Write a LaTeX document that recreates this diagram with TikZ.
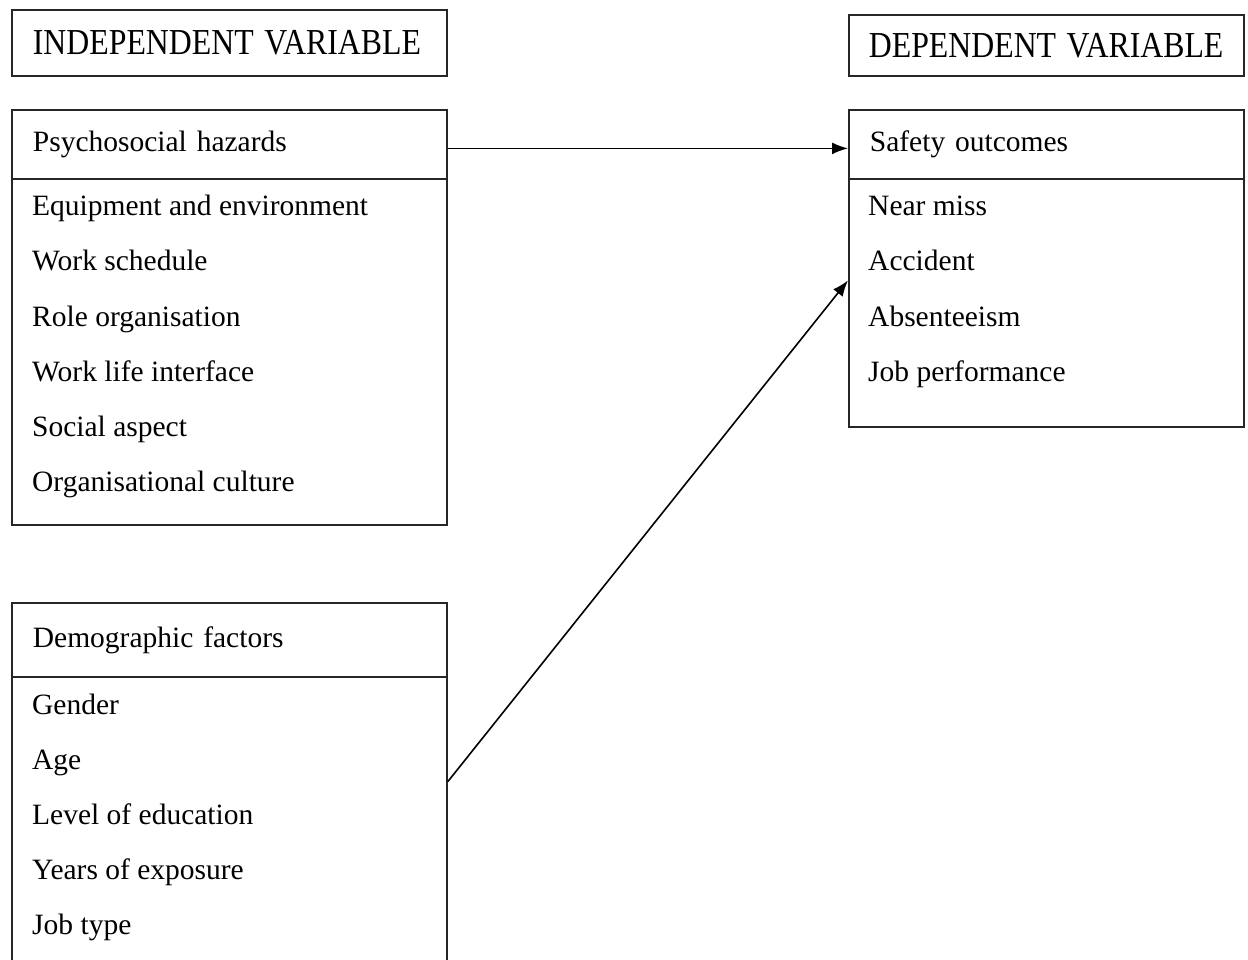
\documentclass[tikz,border=0pt]{standalone}
\usepackage{fontspec}
\usepackage{graphicx}
\setmainfont{Liberation Serif}
\usetikzlibrary{arrows.meta,calc}

\newcommand{\items}[4]{\foreach \txt [count=\i] in {#4} \node[item] (#1\i) at (#2,{#3+55*(\i-1)}) {\txt};}

\begin{document}
\begin{tikzpicture}[x=1pt, y=-1pt,
  cell/.style={draw, line width=1.8pt, draw=black!85, anchor=north west, inner xsep=21pt, inner ysep=0pt, align=left, font=\fontsize{29.5}{35}\selectfont},
  title/.style={cell, font=\fontsize{31.8}{38}\selectfont},
  item/.style={anchor=base west, inner sep=0pt, font=\fontsize{29.5}{35}\selectfont},
  link/.style={line width=1.6pt, -{Latex[length=16pt,width=12pt]}}]
\useasboundingbox (0,0) rectangle (1248,960);
\clip (0,0) rectangle (1248,960);
% variable labels
\node[title, text width=393pt, minimum height=66pt] (indep) at (11,9) {\scalebox{1}[1.15]{INDEPENDENT VARIABLE}};
\node[title, text width=355pt, minimum height=61pt, inner xsep=20pt] (dep) at (848,14) {\scalebox{1}[1.15]{DEPENDENT VARIABLE}};
% psychosocial hazards
\node[cell, text width=393pt, minimum height=69pt] (psyhead) at (11,109) {Psychosocial hazards};
\node[cell, minimum width=435pt, minimum height=346pt] (psybody) at (11,178) {};
\items{psy}{32}{216}{Equipment and environment, Work schedule, Role organisation, Work life interface, Social aspect, Organisational culture}
% safety outcomes
\node[cell, text width=353pt, minimum height=69pt] (safehead) at (848,109) {Safety outcomes};
\node[cell, minimum width=395pt, minimum height=248pt] (safebody) at (848,178) {};
\items{safe}{868}{216}{Near miss, Accident, Absenteeism, Job performance}
% demographic factors
\node[cell, text width=393pt, minimum height=74pt] (demohead) at (11,602) {Demographic factors};
\node[cell, minimum width=435pt, minimum height=300pt] (demobody) at (11,676) {};
\items{demo}{32}{714}{Gender, Age, Level of education, Years of exposure, Job type}
% links
\draw[link] ([yshift=-4pt]psyhead.east) -- ([yshift=-4pt]safehead.west);
\draw[link] ($(demobody.north east)!0.35!(demobody.south east)$) -- ($(safebody.north west)!0.41!(safebody.south west)$);
\end{tikzpicture}
\end{document}
